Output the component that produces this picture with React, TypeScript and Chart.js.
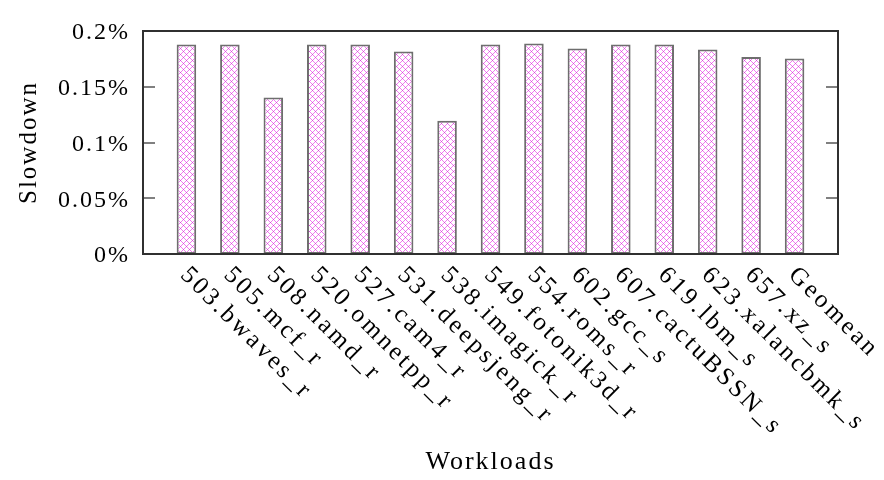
import React, { useEffect, useRef } from 'react';
import { Chart, registerables } from 'chart.js';

Chart.register(...registerables);

const workloads = [
  '503.bwaves_r', '505.mcf_r', '508.namd_r', '520.omnetpp_r', '527.cam4_r',
  '531.deepsjeng_r', '538.imagick_r', '549.fotonik3d_r', '554.roms_r', '602.gcc_s',
  '607.cactuBSSN_s', '619.lbm_s', '623.xalancbmk_s', '657.xz_s', 'Geomean',
];
const slowdown = [
  0.1878, 0.1878, 0.1404, 0.1878, 0.1878,
  0.1816, 0.1195, 0.1878, 0.1887, 0.1843,
  0.1878, 0.1878, 0.1834, 0.1767, 0.1753,
];
const yTicks = [0, 0.05, 0.1, 0.15, 0.2];
const yTickLabels = ['0%', '0.05%', '0.1%', '0.15%', '0.2%'];
const xTitle = 'Workloads';
const yTitle = 'Slowdown';

function makePattern(): CanvasPattern | string {
  const c = document.createElement('canvas');
  c.width = 6;
  c.height = 6;
  const g = c.getContext('2d');
  if (!g) return '#f080f0';
  g.fillStyle = '#ffffff';
  g.fillRect(0, 0, 6, 6);
  g.fillStyle = '#f07cf0';
  for (let i = 0; i < 6; i++) {
    g.fillRect(i, i, 1, 1);
    g.fillRect(i, (6 - i) % 6, 1, 1);
  }
  g.fillStyle = '#d84cd8';
  g.fillRect(0, 0, 1, 1);
  g.fillRect(3, 3, 1, 1);
  const p = g.createPattern(c, 'repeat');
  return p || '#f080f0';
}

const SERIF = '"Liberation Serif", "DejaVu Serif", serif';

const decor = {
  id: 'decor',
  afterDatasetsDraw(chart: any) {
    const { ctx, chartArea: a, scales } = chart;
    const xs = scales.x;
    const ys = scales.y;
    ctx.save();
    // inward ticks on both sides
    ctx.strokeStyle = '#808080';
    ctx.lineWidth = 2;
    yTicks.forEach((v) => {
      const py = Math.round(ys.getPixelForValue(v));
      ctx.beginPath();
      ctx.moveTo(a.left, py);
      ctx.lineTo(a.left + 12, py);
      ctx.moveTo(a.right, py);
      ctx.lineTo(a.right - 12, py);
      ctx.stroke();
    });
    // frame
    ctx.strokeStyle = '#303030';
    ctx.lineWidth = 2;
    ctx.strokeRect(a.left, a.top, a.right - a.left, a.bottom - a.top);

    ctx.fillStyle = '#000000';
    // y tick labels
    ctx.font = '24px ' + SERIF;
    (ctx as any).letterSpacing = '2px';
    ctx.textAlign = 'right';
    ctx.textBaseline = 'middle';
    yTicks.forEach((v, i) => {
      ctx.fillText(yTickLabels[i], a.left - 13, ys.getPixelForValue(v) + 2);
    });

    // x tick labels, rotated clockwise 45deg, starting at tick
    ctx.font = '25px ' + SERIF;
    (ctx as any).letterSpacing = '3px';
    ctx.textAlign = 'left';
    ctx.textBaseline = 'alphabetic';
    workloads.forEach((w, i) => {
      const px = xs.getPixelForValue(i + 1);
      ctx.save();
      ctx.translate(px - 7, a.bottom + 22);
      ctx.rotate(Math.PI / 4);
      ctx.fillText(w, 0, 0);
      ctx.restore();
    });

    // x title
    ctx.font = '26px ' + SERIF;
    (ctx as any).letterSpacing = '2px';
    ctx.textAlign = 'center';
    ctx.fillText(xTitle, (a.left + a.right) / 2, 469);

    // y title
    ctx.font = '25px ' + SERIF;
    (ctx as any).letterSpacing = '2px';
    ctx.save();
    ctx.translate(36, (a.top + a.bottom) / 2);
    ctx.rotate(-Math.PI / 2);
    ctx.textAlign = 'center';
    ctx.fillText(yTitle, 0, 0);
    ctx.restore();

    ctx.restore();
  },
};

export default function App() {
  const ref = useRef<HTMLCanvasElement | null>(null);
  useEffect(() => {
    if (!ref.current) return;
    const labels = ['', ...workloads, ''];
    const data = [null, ...slowdown, null];
    const chart = new Chart(ref.current, {
      type: 'bar',
      data: {
        labels,
        datasets: [
          {
            data,
            backgroundColor: makePattern() as any,
            borderColor: '#6e6e6e',
            borderWidth: 2,
            borderSkipped: false,
            barPercentage: 0.45,
            categoryPercentage: 1,
          },
        ],
      },
      options: {
        responsive: false,
        devicePixelRatio: 1,
        animation: false,
        events: [],
        layout: { padding: { left: 143, top: 31, right: 46, bottom: 226 } },
        plugins: { legend: { display: false }, tooltip: { enabled: false } },
        scales: {
          x: {
            offset: false,
            grid: { display: false },
            border: { display: false },
            ticks: { display: false },
            afterFit: (s: any) => {
              s.height = 0;
            },
          },
          y: {
            min: 0,
            max: 0.2,
            grid: { display: false },
            border: { display: false },
            ticks: { display: false, stepSize: 0.05 },
            afterFit: (s: any) => {
              s.width = 0;
            },
          },
        },
      },
      plugins: [decor],
    });
    return () => chart.destroy();
  }, []);
  return (
    <div style={{ position: 'absolute', left: 0, top: 0, width: 884, height: 480, background: '#fff' }}>
      <canvas ref={ref} width={884} height={480} />
    </div>
  );
}
